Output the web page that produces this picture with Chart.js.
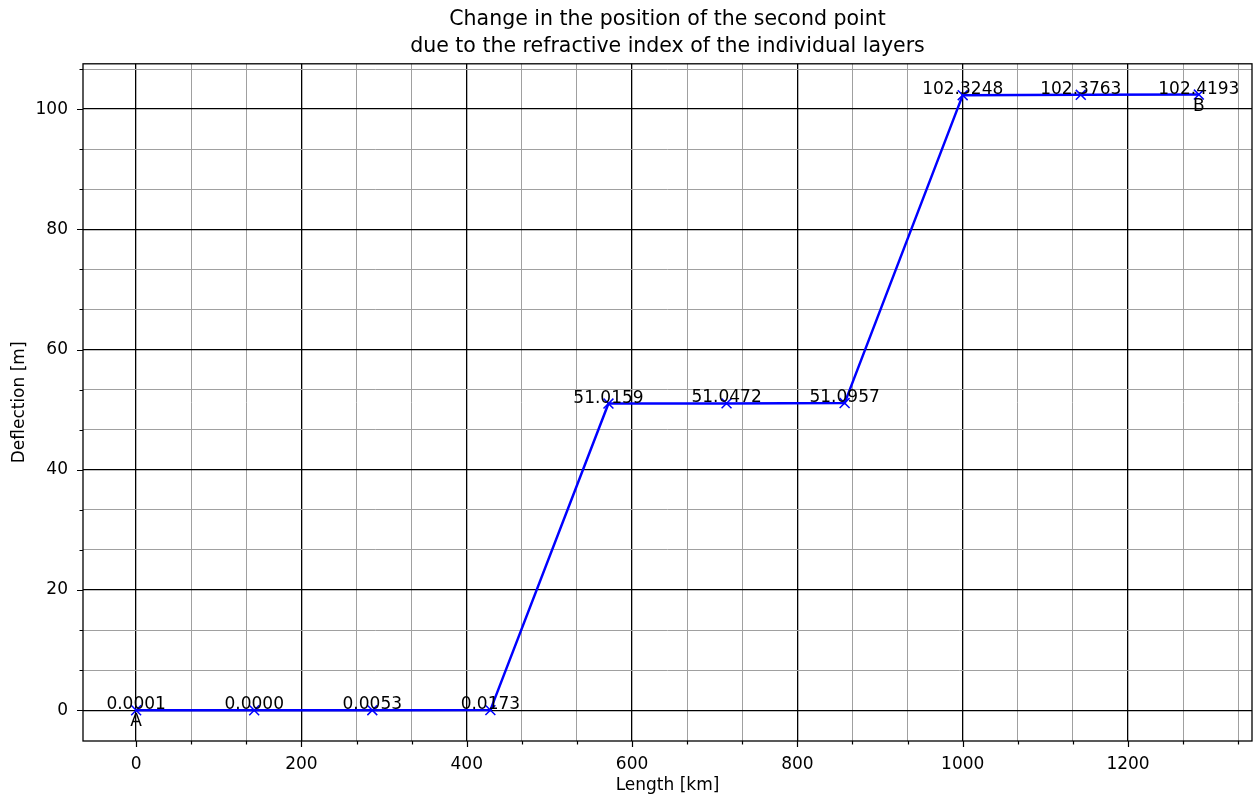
<!DOCTYPE html>
<html>
<head>
<meta charset="utf-8">
<script src="https://cdn.jsdelivr.net/npm/chart.js@4.4.0/dist/chart.umd.min.js"></script>
<style>
  html, body { margin: 0; padding: 0; background: #fff; }
  #wrap { width: 1254px; height: 796px; }
</style>
</head>
<body>
<div id="wrap"><canvas id="deflection_chart"></canvas></div>
<script>
const lengthKm = [0, 142.86, 285.71, 428.57, 571.43, 714.29, 857.14, 1000, 1142.86, 1285.71]
const deflection = [0.0001, 0.0000, 0.0053, 0.0173, 51.0159, 51.0472, 51.0957, 102.3248, 102.3763, 102.4193]
const endNames = ['A', 'B']
const xTickLabels = [0, 200, 400, 600, 800, 1000, 1200]
const yTickLabels = [0, 20, 40, 60, 80, 100]
const xRange = [-64.29, 1350]
const yRange = [-5.12, 107.54]

// majors from the label list, plus two minor ticks between each pair
function withMinor(labels, range) {
  const step = labels[1] - labels[0]
  const out = []
  const lo = Math.ceil(range[0] * 3 / step)
  const hi = Math.floor(range[1] * 3 / step)
  for (let i = lo; i <= hi; i++) {
    const major = i % 3 === 0
    out.push({ value: major ? (i / 3) * step : (i * step) / 3, major })
  }
  return out
}

const isMajor = c => c.tick && c.tick.major

const axesPlugin = {
  id: 'axesFrame',
  afterDatasetsDraw(chart) {
    const { ctx, scales } = chart
    ctx.save()
    ctx.font = '17px "DejaVu Sans"'
    ctx.fillStyle = '#000'
    ctx.textAlign = 'center'
    ctx.textBaseline = 'alphabetic'
    lengthKm.forEach((x, i) => {
      const px = scales.x.getPixelForValue(x)
      const py = scales.y.getPixelForValue(deflection[i])
      ctx.fillText(deflection[i].toFixed(4), px, py - 1)
    })
    const last = lengthKm.length - 1
    ;[0, last].forEach((i, k) => {
      const px = scales.x.getPixelForValue(lengthKm[i])
      const py = scales.y.getPixelForValue(deflection[i])
      ctx.fillText(endNames[k], px, py + 16)
    })
    ctx.restore()
  },
  afterDraw(chart) {
    const { ctx, chartArea: a, scales } = chart
    ctx.save()
    ctx.strokeStyle = '#000'
    ctx.lineWidth = 1.2
    ctx.beginPath()
    scales.x.ticks.forEach(t => {
      const px = Math.round(scales.x.getPixelForValue(t.value)) + 0.5
      ctx.moveTo(px, a.bottom)
      ctx.lineTo(px, a.bottom + (t.major ? 6 : 3.5))
    })
    scales.y.ticks.forEach(t => {
      const py = Math.round(scales.y.getPixelForValue(t.value)) + 0.5
      ctx.moveTo(a.left, py)
      ctx.lineTo(a.left - (t.major ? 6 : 3.5), py)
    })
    ctx.stroke()
    ctx.lineWidth = 1.3
    ctx.strokeRect(a.left, a.top, a.right - a.left, a.bottom - a.top)
    ctx.restore()
  }
}

Chart.defaults.font.family = '"DejaVu Sans", sans-serif'
Chart.defaults.color = '#000'

new Chart(document.getElementById('deflection_chart').getContext('2d'), {
  type: 'scatter',
  data: {
    datasets: [
      {
        data: lengthKm.map((x, i) => ({ x, y: deflection[i] })),
        showLine: true,
        borderColor: '#0000ff',
        borderWidth: 2.5,
        pointStyle: 'crossRot',
        pointRadius: 7,
        pointBorderWidth: 1.5,
        pointBorderColor: '#0000ff',
        pointBackgroundColor: '#0000ff',
        tension: 0,
      },
    ],
  },
  options: {
    responsive: true,
    maintainAspectRatio: false,
    animation: false,
    layout: { autoPadding: false, padding: { right: 2, left: 0, top: 0, bottom: 0 } },
    plugins: {
      legend: { display: false },
      tooltip: { enabled: false },
      title: {
        display: true,
        fullSize: false,
        text: ['Change in the position of the second point', 'due to the refractive index of the individual layers'],
        color: '#000',
        font: { size: 20.5, weight: 'normal', lineHeight: 1.3 },
        padding: { top: 6.5, bottom: 4 },
      },
    },
    scales: {
      x: {
        type: 'linear',
        min: xRange[0],
        max: xRange[1],
        bounds: 'data',
        afterBuildTicks: s => { s.ticks = withMinor(xTickLabels, xRange) },
        afterFit: s => {
          s.height = 55
          s.paddingLeft = 0
          s.paddingRight = 0
        },
        border: { display: false },
        grid: {
          drawTicks: false,
          color: c => (isMajor(c) ? '#000' : '#a0a0a0'),
          lineWidth: c => (isMajor(c) ? 1.3 : 1),
        },
        ticks: {
          autoSkip: false,
          maxRotation: 0,
          padding: 13,
          color: '#000',
          font: { size: 17 },
          callback: (v, i, ticks) => (ticks[i].major ? String(v) : ''),
        },
        title: {
          display: true,
          text: 'Length [km]',
          color: '#000',
          font: { size: 17 },
          padding: { top: 0, bottom: 0 },
        },
      },
      y: {
        type: 'linear',
        min: yRange[0],
        max: yRange[1],
        bounds: 'data',
        afterBuildTicks: s => { s.ticks = withMinor(yTickLabels, yRange) },
        afterFit: s => { s.width = 83 },
        border: { display: false },
        grid: {
          drawTicks: false,
          color: c => (isMajor(c) ? '#000' : '#a0a0a0'),
          lineWidth: c => (isMajor(c) ? 1.3 : 1),
        },
        ticks: {
          autoSkip: false,
          padding: 15,
          color: '#000',
          font: { size: 17 },
          callback: (v, i, ticks) => (ticks[i].major ? String(v) : ''),
        },
        title: {
          display: true,
          text: 'Deflection [m]',
          color: '#000',
          font: { size: 17 },
          padding: { top: 9, bottom: 0 },
        },
      },
    },
  },
  plugins: [axesPlugin],
})
</script>
</body>
</html>
